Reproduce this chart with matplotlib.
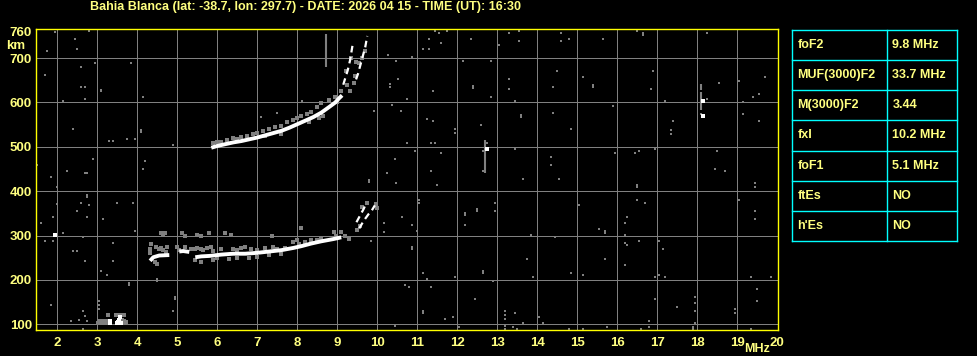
import matplotlib
matplotlib.use("Agg")
import matplotlib.pyplot as plt

plt.rcParams['font.family'] = ['Liberation Sans', 'DejaVu Sans']

title = "Bahia Blanca (lat: -38.7, lon: 297.7) - DATE: 2026 04 15 - TIME (UT): 16:30"

# ionogram traces (frequency MHz, virtual height km)
upper_f = [5.85, 6.0, 6.2, 6.4, 6.6, 6.8, 7.0, 7.2, 7.4, 7.6, 7.8, 8.0, 8.2, 8.4, 8.6, 8.8, 8.95, 9.05, 9.12]
upper_h = [498, 502, 506, 510, 513, 517, 521, 526, 531, 536, 543, 551, 559, 567, 577, 590, 600, 610, 616]

lower1_f = [4.32, 4.4, 4.55, 4.8]
lower1_h = [243, 251, 255, 256]
lower2_f = [5.05, 5.15, 5.3]
lower2_h = [264, 265, 263]
lower3_f = [5.45, 5.6, 5.8, 6.1, 6.4, 6.7, 7.0, 7.3, 7.6, 7.9, 8.1, 8.35, 8.6, 8.9, 9.1]
lower3_h = [251, 253, 254, 257, 259, 259, 261, 264, 267, 272, 276, 282, 287, 292, 296]

# broken branches near the critical frequencies
fb1_f = [9.15, 9.2, 9.26, 9.32, 9.38]
fb1_h = [640, 655, 672, 695, 728]
fb2_f = [9.47, 9.52, 9.58, 9.64, 9.7, 9.75]
fb2_h = [652, 665, 685, 705, 725, 750]
xb1_f = [9.48, 9.54, 9.6, 9.66, 9.72]
xb1_h = [330, 340, 350, 360, 372]
xb2_f = [9.55, 9.62, 9.7, 9.78, 9.86, 9.94]
xb2_h = [316, 327, 338, 348, 356, 368]

# weaker (gray) echoes around the traces
halo_f = [4.31, 4.31, 4.35, 4.47, 4.55, 4.6, 4.65, 4.72, 4.75, 4.6, 4.65, 4.7, 4.45, 4.5, 5.13, 5.2, 5.0, 5.05,
          5.2, 5.35, 5.45, 5.5, 5.6, 5.65, 5.75, 5.85, 5.9, 5.5, 5.6, 5.8, 5.45, 5.6, 5.9, 6.0, 6.1, 6.2, 6.34,
          6.4, 6.5, 6.6, 6.7, 6.85, 7.0, 7.2, 7.38, 7.4, 7.5, 7.7, 7.9, 8.0, 8.05, 8.2, 8.35, 8.5, 8.6, 8.92,
          9.09, 8.97, 6.3, 6.5, 6.8, 7.0, 7.3, 7.6, 8.1, 9.2, 9.3,
          5.9, 6.0, 6.1, 6.25, 6.4, 6.5, 6.6, 6.75, 6.9, 7.0, 7.15, 7.3, 7.45, 7.6, 7.75, 7.9, 8.0, 8.1, 8.25,
          8.35, 8.5, 8.6, 8.65, 8.8, 8.95, 9.1, 9.0, 7.2, 7.6, 8.3, 8.55, 9.43, 9.32, 9.22, 9.47, 9.63, 9.35,
          9.55, 9.7, 9.45, 9.25, 9.63, 9.74, 9.98, 9.99, 9.58, 9.5]
halo_h = [260, 270, 280, 275, 270, 272, 268, 262, 275, 305, 303, 305, 240, 235, 305, 300, 275, 268,
          275, 270, 270, 272, 270, 268, 272, 275, 265, 302, 300, 305, 245, 240, 245, 250, 270, 305, 302,
          270, 268, 272, 275, 270, 268, 272, 298, 275, 270, 272, 285, 290, 280, 285, 290, 290, 295, 309,
          309, 300, 248, 250, 250, 252, 255, 258, 318, 300, 292,
          508, 512, 510, 515, 520, 518, 522, 525, 528, 532, 535, 540, 545, 548, 555, 560, 565, 570, 575,
          578, 590, 598, 570, 605, 612, 625, 600, 525, 530, 556, 566, 644, 625, 670, 691, 700, 700,
          690, 715, 660, 640, 364, 373, 370, 363, 322, 312]

# E region blob
e_gray_f = [3.02, 3.07, 3.12, 3.17, 3.22, 3.27, 3.05, 3.12, 3.2, 3.28, 3.28, 3.48, 3.53, 3.58, 3.63, 3.68,
            3.62, 3.67, 3.72, 3.66, 3.72]
e_gray_h = [102, 102, 102, 102, 102, 102, 107, 107, 107, 107, 120, 121, 121, 121, 121, 121, 110, 108, 105,
            103, 103]
e_white_f = [3.33, 3.33, 3.5, 3.52, 3.55, 3.55, 3.57, 3.6, 1.94, 12.75, 18.15, 18.15]
e_white_h = [103, 108, 103, 106, 103, 110, 116, 103, 301, 496, 604, 569]

# vertical interference streaks
streak_f = [8.73, 12.7, 18.1, 18.1]
streak_lo = [680, 441, 583, 629]
streak_hi = [755, 516, 624, 642]

# isolated noise dots
noise_f = [1.94, 2.44, 2.49, 2.79, 1.74, 2.94, 2.59, 3.84, 1.69, 2.59, 2.69, 3.09, 3.09, 2.69, 2.14, 4.14,
           2.39, 4.09, 4.09, 3.29, 3.39, 3.74, 3.94, 4.89, 2.89, 1.49, 4.19, 2.24, 4.14, 1.84, 2.7, 2.75,
           1.99, 2.74, 2.74, 1.99, 2.59, 2.79, 3.49, 3.89, 2.49, 1.89, 2.74, 3.14, 1.59, 3.94, 2.14, 1.69,
           1.89, 2.64, 3.39, 2.39, 2.49, 2.69, 3.39, 3.09, 3.24, 3.79, 3.79, 4.49, 4.49, 4.94, 4.94, 1.84,
           4.89, 3.04, 3.04, 3.04, 2.64, 2.69, 2.34, 2.54, 2.74, 2.64,
           10.28, 10.48, 10.86, 10.53, 10.33, 10.33, 10.74, 10.38, 10.59, 9.93, 10.74, 10.94, 10.44, 10.24,
           10.48, 10.63, 10.88, 10.18, 10.18, 9.84, 10.88, 10.88, 10.69, 10.79, 10.44, 7.09, 7.49, 8.13,
           9.8, 9.8,
           11.45, 11.55, 11.75, 11.15, 11.3, 11.6, 11.3, 12.35, 13.3, 13.55, 13.55, 13.05, 14.6, 14.8, 14.6,
           15.65, 12.15, 12.85, 14.5, 15.15, 15.4, 15.4, 13.3, 13.3, 14.4, 12.4, 12.4, 11.4, 12.85, 13.45,
           13.6, 13.6, 14.4, 11.25, 11.4, 11.95, 11.95, 12.6, 14.85, 11.35, 11.45, 11.6, 13.45, 14.35, 14.35,
           11.35, 11.5, 13.65, 14.55, 11.05, 11.05, 12.95, 12.95, 12.5, 12.5, 12.2, 12.2, 12.2, 15.05, 15.55,
           15.7, 15.7, 10.99, 13.85, 14.45, 13.75, 15.7, 11.15, 11.25, 11.95, 12.65, 12.65, 12.9, 13.9,
           14.85, 15.15, 11.35, 12.45, 11.15, 11.15, 11.7, 11.9, 13.2, 13.2, 13.2, 13.45, 14.05, 13.65,
           14.15, 12.05, 13.2, 13.2, 13.4, 13.5, 14.8, 15.15, 12.75, 12.65, 12.65,
           16.5, 16.65, 16.65, 18.25, 16.9, 16.85, 18.55, 19.05, 19.7, 19.4, 19.55, 19.15, 19.15, 19.55,
           15.9, 17.2, 17.2, 17.4, 17.35, 17.35, 15.95, 16.45, 16.55, 16.95, 18.5, 18.45, 18.7, 19.45,
           19.45, 16.5, 16.5, 16.5, 16.7, 19.05, 19.45, 19.45, 16.25, 16.2, 16.2, 16.2, 16.25, 16.55,
           17.05, 17.15, 16.2, 16.95, 17.05, 17.2, 19.35, 19.85, 19.5, 19.5, 16.95, 17.5, 17.95, 17.95,
           17.95, 17.95, 18.95, 18.95, 16.8, 15.75, 16.6, 16.8, 17.9, 17.9, 19.35, 18.25, 18.1]
noise_h = [758, 744, 721, 762, 717, 689, 680, 689, 662, 635, 635, 629, 625, 608, 604, 613,
           541, 538, 533, 514, 514, 518, 518, 505, 473, 459, 468, 446, 450, 432, 441, 441,
           410, 392, 387, 372, 373, 369, 373, 373, 356, 342, 342, 338, 329, 310, 306, 288,
           288, 297, 283, 265, 265, 243, 243, 220, 211, 193, 188, 202, 197, 161, 156, 144,
           130, 153, 144, 135, 130, 119, 107, 110, 107, 89,
           707, 694, 703, 653, 641, 636, 608, 595, 581, 581, 509, 491, 473, 441,
           419, 342, 324, 329, 308, 288, 275, 270, 189, 184, 95, 568, 577, 604,
           425, 421,
           762, 757, 762, 721, 721, 734, 744, 744, 757, 762, 739, 730, 757, 744, 739,
           744, 694, 694, 672, 658, 640, 635, 654, 631, 636, 637, 632, 627, 613, 604,
           572, 567, 577, 563, 559, 541, 532, 550, 541, 509, 509, 487, 496, 478, 460,
           446, 415, 428, 428, 379, 374, 373, 355, 359, 355, 350, 346, 324, 369, 315,
           310, 306, 311, 302, 297, 247, 247, 216, 202, 207, 220, 216, 198, 207,
           216, 211, 184, 157, 130, 126, 112, 116, 130, 121, 112, 125, 116, 103,
           103, 94, 96, 90, 94, 89, 89, 89, 509, 491, 446,
           762, 757, 753, 757, 672, 631, 645, 649, 658, 613, 618, 600, 573, 559,
           591, 604, 600, 559, 537, 528, 487, 487, 491, 496, 491, 451, 446, 419,
           410, 414, 410, 379, 374, 379, 355, 337, 342, 329, 302, 284, 279, 288,
           288, 270, 234, 207, 211, 207, 207, 207, 180, 153, 157, 139, 162, 148,
           130, 103, 134, 125, 107, 94, 89, 94, 93, 89, 89, 608, 573]

freq_ticks = list(range(2, 21))
height_grid = [100, 200, 300, 400, 500, 600, 700]
height_ticks = [100, 200, 300, 400, 500, 600, 700, 760]

table_names = ["foF2", "MUF(3000)F2", "M(3000)F2", "fxI", "foF1", "ftEs", "h'Es"]
table_values = ["9.8 MHz", "33.7 MHz", "3.44", "10.2 MHz", "5.1 MHz", "NO", "NO"]

W, H = 978, 356
txt = '#ffff80'
gray = '#808080'

fig = plt.figure(figsize=(W / 100, H / 100), dpi=100, facecolor='black')
ax = fig.add_axes([35.5 / W, 26 / H, (778 - 35.5) / W, (330 - 29.3) / H], facecolor='black')
ax.set_xlim(1.455, 20.02)
ax.set_ylim(87, 765)

ax.vlines(freq_ticks[:-1], 87, 765, color=gray, lw=0.72, zorder=1)
ax.hlines(height_grid, 1.455, 20.02, color=gray, lw=0.72, zorder=1)

ax.vlines(streak_f, streak_lo, streak_hi, color=gray, lw=1.5, zorder=2)
ax.plot(noise_f, noise_h, 's', color=gray, ms=2.0, mew=0, zorder=2)
ax.plot(halo_f, halo_h, 's', color=gray, ms=2.2, mew=0, zorder=2)
ax.plot(e_gray_f, e_gray_h, 's', color=gray, ms=2.6, mew=0, zorder=2)

for lf, lh in [(upper_f, upper_h), (lower1_f, lower1_h), (lower2_f, lower2_h), (lower3_f, lower3_h)]:
    ax.plot(lf, lh, color='white', lw=2.8, zorder=3, solid_capstyle='butt')
for bf, bh in [(fb1_f, fb1_h), (fb2_f, fb2_h), (xb1_f, xb1_h), (xb2_f, xb2_h)]:
    ax.plot(bf, bh, color='white', lw=1.6, ls=(0, (3, 2)), zorder=3)
ax.plot(e_white_f, e_white_h, 's', color='white', ms=2.4, mew=0, zorder=3)

for s in ax.spines.values():
    s.set_color('#ffff00')
    s.set_linewidth(1.0)

ax.set_xticks(freq_ticks)
ax.set_xticklabels([str(v) for v in freq_ticks])
ax.set_yticks(height_ticks)
ax.set_yticklabels([str(v) for v in height_ticks])
ax.tick_params(length=0, colors=txt, labelsize=9.5)
ax.tick_params(axis='x', pad=5)
ax.tick_params(axis='y', pad=2.5)
for lab in ax.get_xticklabels() + ax.get_yticklabels():
    lab.set_fontweight('bold')

fig.text(6 / W, 1 - 46 / H, "km", color=txt, fontsize=9.5, fontweight='bold', va='center', ha='left')
fig.text(757 / W, 1 - 349 / H, "MHz", color=txt, fontsize=9, fontweight='bold', va='center', ha='center')
fig.text(90 / W, 1 - 7 / H, title, color=txt, fontsize=9, fontweight='bold', va='center', ha='left')

# parameter table
tx0, tx1, ty0, ty1, tdiv = 792.3, 957.3, 30.3, 240.7, 887.3
tab = fig.add_axes([tx0 / W, 1 - ty1 / H, (tx1 - tx0) / W, (ty1 - ty0) / H])
tab.set_xlim(tx0, tx1)
tab.set_ylim(ty1, ty0)
tab.axis('off')
n = len(table_names)
rh = (ty1 - ty0) / n
cyan = '#00ffff'
for i in range(n + 1):
    tab.plot([tx0, tx1], [ty0 + i * rh] * 2, color=cyan, lw=1.0, clip_on=False)
for xv in [tx0, tdiv, tx1]:
    tab.plot([xv, xv], [ty0, ty1], color=cyan, lw=1.0, clip_on=False)
for i, (nm, val) in enumerate(zip(table_names, table_values)):
    yc = ty0 + (i + 0.5) * rh
    tab.text(tx0 + 5, yc, nm, color=txt, fontsize=9, fontweight='bold', va='center', ha='left')
    tab.text(tdiv + 5, yc, val, color=txt, fontsize=9, fontweight='bold', va='center', ha='left')

fig.savefig('out.png', dpi=100, facecolor='black')
